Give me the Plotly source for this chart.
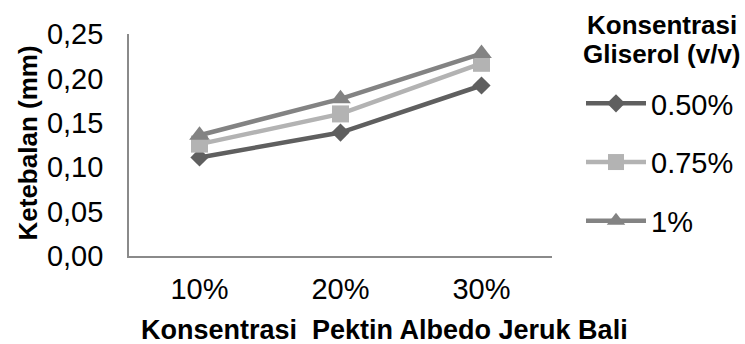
import plotly.graph_objects as go

categories = ["10%", "20%", "30%"]
series_names = ["0.50%", "0.75%", "1%"]
val_050 = [0.111, 0.139, 0.192]
val_075 = [0.126, 0.160, 0.217]
val_100 = [0.136, 0.177, 0.228]
y_ticks = [0.00, 0.05, 0.10, 0.15, 0.20, 0.25]
y_tick_labels = ["0,00", "0,05", "0,10", "0,15", "0,20", "0,25"]
legend_title_lines = ["Konsentrasi", "Gliserol (v/v)"]

FONT = "Liberation Sans, Arial, sans-serif"
W, H = 745, 344
L, R, T, B = 129, 193, 34, 88

styles = [
    dict(color="#5f5f5f", symbol="diamond", size=14),
    dict(color="#b3b3b3", symbol="square", size=17),
    dict(color="#838383", symbol="triangle-up", size=18),
]

fig = go.Figure()
for i, (name, vals) in enumerate(zip(series_names, [val_050, val_075, val_100])):
    st = styles[i]
    fig.add_trace(go.Scatter(
        x=categories, y=vals, name=name, mode="lines+markers",
        line=dict(color=st["color"], width=4.5),
        marker=dict(symbol=st["symbol"], size=st["size"], color=st["color"]),
        legendgroup=name,
    ))

pw = W - L - R
ph = H - T - B


def px_to_paper_x(px):
    return (px - L) / pw


def px_to_paper_y(py):
    return 1 - (py - T) / ph


annotations = [
    dict(text="<b>Ketebalan (mm)</b>", textangle=-90,
         xref="paper", yref="paper", x=0, y=px_to_paper_y(143.5),
         xanchor="center", yanchor="middle", xshift=27 - L,
         showarrow=False, font=dict(family=FONT, size=26)),
    dict(text="<b>Konsentrasi  Pektin Albedo Jeruk Bali</b>",
         xref="paper", yref="paper", x=px_to_paper_x(384), y=0,
         xanchor="center", yanchor="middle", yshift=-(330 - 256),
         showarrow=False, font=dict(family=FONT, size=27)),
]
for line_text, cy in zip(legend_title_lines, [25, 54]):
    annotations.append(dict(
        text="<b>" + line_text + "</b>", xref="paper", yref="paper",
        x=px_to_paper_x(662), y=px_to_paper_y(cy),
        xanchor="center", yanchor="middle", showarrow=False,
        font=dict(family=FONT, size=26),
    ))

fig.update_layout(
    width=W, height=H,
    margin=dict(l=L, r=R, t=T, b=B, pad=0, autoexpand=False),
    paper_bgcolor="white", plot_bgcolor="white",
    font=dict(family=FONT, size=29, color="#000000"),
    showlegend=True,
    legend=dict(
        x=px_to_paper_x(581), y=px_to_paper_y(78), xanchor="left", yanchor="top",
        font=dict(family=FONT, size=29),
        tracegroupgap=18, itemwidth=60, maxheight=400,
        bgcolor="rgba(0,0,0,0)",
    ),
    xaxis=dict(
        type="category", range=[-0.5, 2.5],
        showline=True, linecolor="#8a8a8a", linewidth=1.6,
        showgrid=False, zeroline=False, ticks="",
        tickfont=dict(family=FONT, size=29), ticklabelstandoff=6,
    ),
    yaxis=dict(
        range=[0, 0.25], tickvals=y_ticks, ticktext=y_tick_labels,
        showline=True, linecolor="#8a8a8a", linewidth=1.6,
        showgrid=False, zeroline=False, ticks="",
        tickfont=dict(family=FONT, size=29), ticklabelstandoff=18,
    ),
    annotations=annotations,
)

fig.write_html("out.html")
